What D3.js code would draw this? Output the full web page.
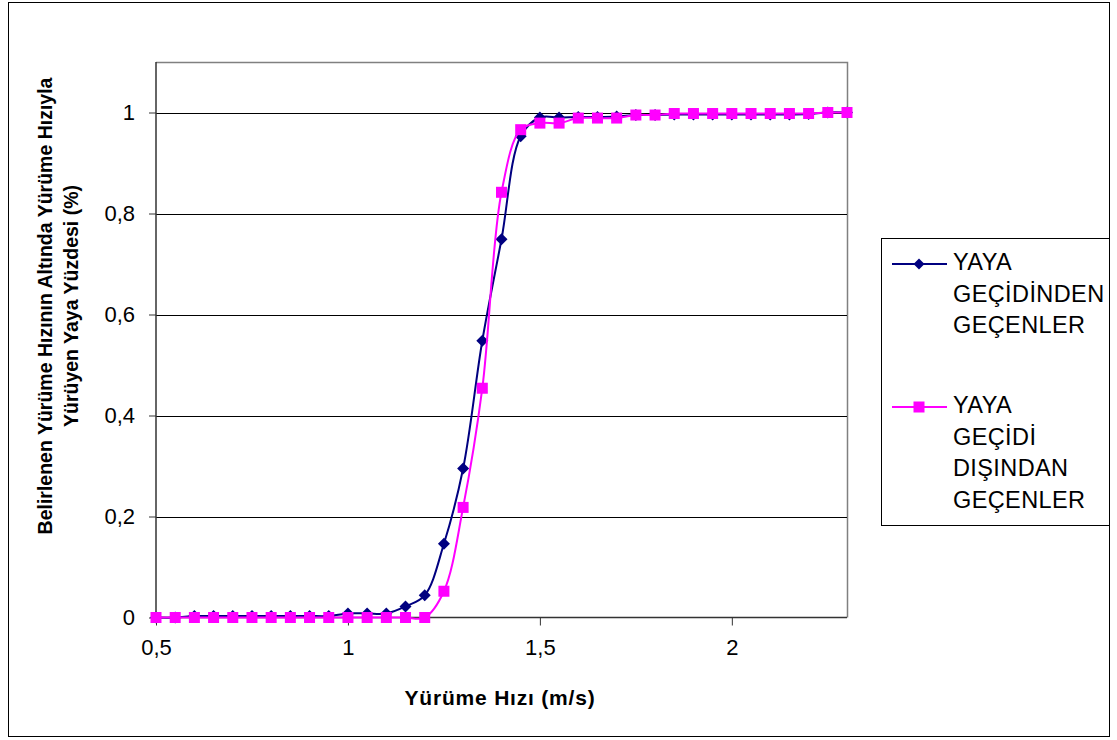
<!DOCTYPE html>
<html>
<head>
<meta charset="utf-8">
<script src="https://cdn.jsdelivr.net/npm/d3@7"></script>
<style>
  html, body { margin: 0; padding: 0; background: #fff; }
  svg { display: block; font-family: "Liberation Sans", Arial, sans-serif; }
</style>
</head>
<body>
<svg id="chart" width="1117" height="740"></svg>
<script>
// Walking speed (m/s)
const speeds = [0.5, 0.55, 0.6, 0.65, 0.7, 0.75, 0.8, 0.85, 0.9, 0.95,
                1.0, 1.05, 1.1, 1.15, 1.2, 1.25, 1.3, 1.35, 1.4, 1.45,
                1.5, 1.55, 1.6, 1.65, 1.7, 1.75, 1.8, 1.85, 1.9, 1.95,
                2.0, 2.05, 2.1, 2.15, 2.2, 2.25, 2.3];

// Cumulative share of pedestrians walking below a given speed
const crossingInside = [0, 0, 0.003, 0.003, 0.003, 0.003, 0.003, 0.003, 0.003, 0.003,
                        0.008, 0.008, 0.008, 0.022, 0.044, 0.146, 0.295, 0.548, 0.749, 0.953,
                        0.99, 0.99, 0.991, 0.991, 0.992, 0.995, 0.995, 0.996, 0.996, 0.996,
                        0.996, 0.996, 0.996, 0.996, 0.997, 1.0, 1.0];
const crossingOutside = [0, 0, 0, 0, 0, 0, 0, 0, 0, 0,
                         0, 0, 0, 0, 0, 0.052, 0.218, 0.454, 0.842, 0.966,
                         0.979, 0.979, 0.989, 0.989, 0.989, 0.995, 0.995, 0.998, 0.998, 0.998,
                         0.998, 0.998, 0.998, 0.998, 0.998, 1.0, 1.0];

const xTicks = [0.5, 1, 1.5, 2];
const yTicks = [0, 0.2, 0.4, 0.6, 0.8, 1];

const legendInside = ["YAYA", "GEÇİDİNDEN", "GEÇENLER"];
const legendOutside = ["YAYA", "GEÇİDİ", "DIŞINDAN", "GEÇENLER"];

const xTitle = "Yürüme Hızı (m/s)";
const yTitle = ["Belirlenen Yürüme Hızının Altında Yürüme Hızıyla", "Yürüyen Yaya Yüzdesi (%)"];

const fmt = v => String(v).replace(".", ",");

const svg = d3.select("#chart");

// outer chart frame
svg.append("rect").attr("x", 8.5).attr("y", 2.5).attr("width", 1101).attr("height", 734)
  .attr("fill", "#fff").attr("stroke", "#000").attr("stroke-width", 1);

const plot = { left: 156, right: 847, top: 62, bottom: 617.5 };
const x = d3.scaleLinear().domain([0.5, 2.3]).range([plot.left, plot.right]);
const y = d3.scaleLinear().domain([0, 1.1]).range([plot.bottom, plot.top]);

// plot area border (grey top/right)
svg.append("path")
  .attr("d", `M${plot.left},${plot.top + 0.5}H${plot.right + 0.5}V${plot.bottom}`)
  .attr("fill", "none").attr("stroke", "#808080").attr("stroke-width", 1.5);

// horizontal gridlines
svg.append("g").selectAll("line").data(yTicks.filter(d => d > 0)).join("line")
  .attr("x1", plot.left).attr("x2", plot.right)
  .attr("y1", d => Math.round(y(d)) + 0.5).attr("y2", d => Math.round(y(d)) + 0.5)
  .attr("stroke", "#000").attr("stroke-width", 1);

// y axis
const yAxis = svg.append("g").attr("transform", `translate(${plot.left},0)`)
  .call(d3.axisLeft(y).tickValues(yTicks).tickFormat(fmt).tickSize(7).tickPadding(14));
yAxis.select(".domain").attr("stroke", "#333").attr("stroke-width", 1.5)
  .attr("d", `M0,${plot.top}V${plot.bottom}`);
yAxis.selectAll(".tick line").attr("stroke", "#333");
yAxis.selectAll(".tick text").attr("font-size", 22).attr("fill", "#000")
  .attr("font-family", "Liberation Sans, Arial, sans-serif");

// x axis
const xAxis = svg.append("g").attr("transform", `translate(0,${plot.bottom})`)
  .call(d3.axisBottom(x).tickValues(xTicks).tickFormat(fmt).tickSize(8).tickPadding(14));
xAxis.select(".domain").attr("stroke", "#333").attr("stroke-width", 1.5)
  .attr("d", `M${plot.left},0H${plot.right}`);
xAxis.selectAll(".tick line").attr("stroke", "#333");
xAxis.selectAll(".tick text").attr("font-size", 22).attr("fill", "#000")
  .attr("font-family", "Liberation Sans, Arial, sans-serif");

// series
const line = d3.line().curve(d3.curveCatmullRom.alpha(0.5));
const ptsIn = speeds.map((s, i) => [x(s), y(crossingInside[i])]);
const ptsOut = speeds.map((s, i) => [x(s), y(crossingOutside[i])]);

const navy = "#000080", magenta = "#FF00FF";
const diamond = r => `M0,${-r}L${r},0L0,${r}L${-r},0Z`;

svg.append("path").attr("d", line(ptsIn)).attr("fill", "none")
  .attr("stroke", navy).attr("stroke-width", 2);
svg.append("g").selectAll("path").data(ptsIn).join("path")
  .attr("transform", d => `translate(${d[0]},${d[1]})`)
  .attr("d", diamond(6)).attr("fill", navy);

svg.append("path").attr("d", line(ptsOut)).attr("fill", "none")
  .attr("stroke", magenta).attr("stroke-width", 2);
svg.append("g").selectAll("rect").data(ptsOut).join("rect")
  .attr("x", d => d[0] - 5.5).attr("y", d => d[1] - 5.5)
  .attr("width", 11).attr("height", 11).attr("fill", magenta);

// axis titles
svg.append("text").attr("x", 500).attr("y", 705).attr("text-anchor", "middle")
  .attr("font-weight", "bold").attr("font-size", 21).attr("letter-spacing", 0.8)
  .text(xTitle);

const yt = svg.append("text").attr("transform", "translate(0,306) rotate(-90)")
  .attr("text-anchor", "middle").attr("font-weight", "bold").attr("font-size", 19.5);
yTitle.forEach((t, i) => yt.append("tspan").attr("x", 0).attr("y", 52 + i * 26).text(t));

// legend
const lg = svg.append("g");
lg.append("rect").attr("x", 881.5).attr("y", 238.5).attr("width", 228).attr("height", 287)
  .attr("fill", "#fff").attr("stroke", "#000").attr("stroke-width", 1);

const entries = [
  { lines: legendInside, color: navy, marker: "diamond", top: 270 },
  { lines: legendOutside, color: magenta, marker: "square", top: 413 }
];
entries.forEach(e => {
  const ly = e.top - 6;
  lg.append("line").attr("x1", 892).attr("x2", 947).attr("y1", ly).attr("y2", ly)
    .attr("stroke", e.color).attr("stroke-width", 2);
  if (e.marker === "diamond") {
    lg.append("path").attr("transform", `translate(919,${ly})`).attr("d", diamond(5.5)).attr("fill", e.color);
  } else {
    lg.append("rect").attr("x", 913.5).attr("y", ly - 5.5).attr("width", 11).attr("height", 11).attr("fill", e.color);
  }
  const t = lg.append("text").attr("font-size", 23.5).attr("letter-spacing", 0.4);
  e.lines.forEach((s, i) => t.append("tspan").attr("x", 953).attr("y", e.top + i * 31.5).text(s));
});
</script>
</body>
</html>
